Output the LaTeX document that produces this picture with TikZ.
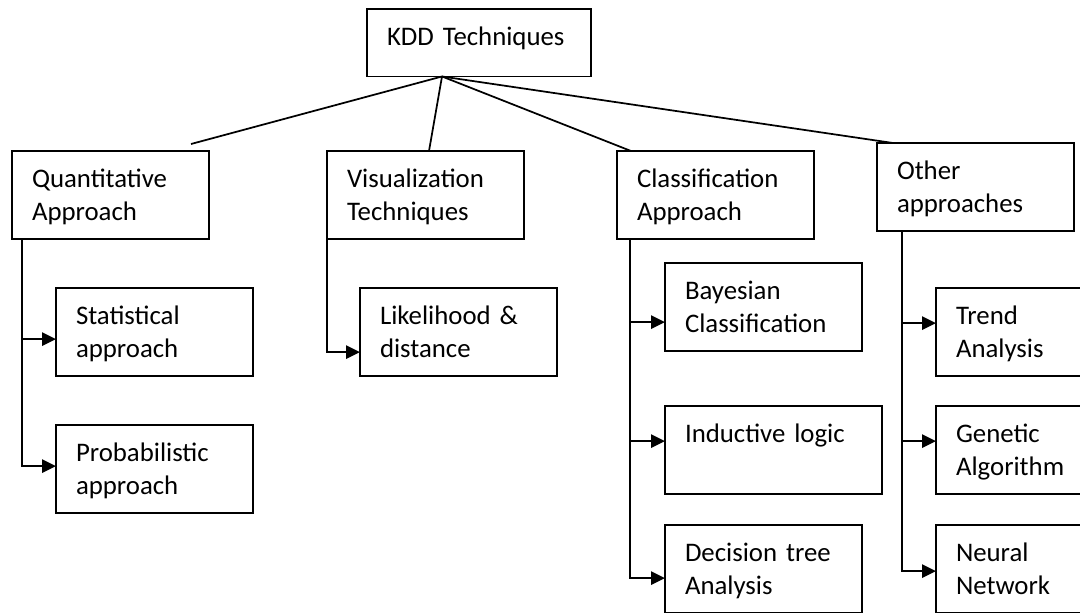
\documentclass[tikz,border=0pt]{standalone}
\usepackage{fontspec}
\setmainfont{Carlito}
\usetikzlibrary{arrows.meta}

\begin{document}
\begin{tikzpicture}[x=0.75pt, y=-0.75pt, line width=1.3pt,
    box/.style={draw, anchor=north west, outer sep=0pt, align=left,
      inner xsep=15pt, inner ysep=0pt, text width=#1,
      text height=27.4pt, text depth=38.8pt,
      font=\fontsize{20.1pt}{24.5pt}\selectfont},
    box/.default=118pt,
    link/.style={-{Triangle[length=10.5pt, width=10pt]}}]
    % Page frame
    \path[use as bounding box, fill=white] (0,0) rectangle (1080,612);
    \clip (0,0) rectangle (1080,612);

    % Root of the tree
    \node[box=138pt, text depth=23.2pt] (kdd) at (367,9) {KDD Techniques};

    % Main branches
    \node[box] (quant) at (12,151) {Quantitative\\Approach};
    \node[box] (vis) at (327,151) {Visualization\\Techniques};
    \node[box] (class) at (617,151) {Classification\\Approach};
    \node[box] (other) at (877,143) {Other\\approaches};

    % Leaves
    \node[box] (stat) at (56,288) {Statistical\\approach};
    \node[box] (prob) at (56,425) {Probabilistic\\approach};
    \node[box] (lik) at (360,288) {Likelihood \&\\distance};
    \node[box] (bayes) at (665,263) {Bayesian\\Classification};
    \node[box=133pt] (induct) at (665,406) {Inductive logic};
    \node[box] (dtree) at (665,525) {Decision tree\\Analysis};
    \node[box] (trend) at (936,288) {Trend\\Analysis};
    \node[box] (genetic) at (936,406) {Genetic\\Algorithm};
    \node[box] (neural) at (936,525) {Neural\\Network};

    % Fan-out from the root
    \coordinate (fan) at ([shift={(75,0)}]kdd.south west);
    \coordinate (qend) at ([shift={(179,-7)}]quant.north west);
    \draw (fan) -- (qend);
    \draw (fan) -- ([shift={(102,0)}]vis.north west);
    \draw (fan) -- ([shift={(14,0)}]class.north west);
    \draw (fan) -- ([shift={(16,0)}]other.north west);

    % Trunks down to the leaves
    \draw[link] ([shift={(10,0)}]quant.south west) |- ([shift={(0,7)}]stat.west);
    \draw[link] ([shift={(10,0)}]quant.south west) |- ([shift={(0,-3)}]prob.west);
    \draw[link] (vis.south west) |- ([shift={(0,20)}]lik.west);
    \draw[link] ([shift={(13,0)}]class.south west) |- ([shift={(0,15)}]bayes.west);
    \draw[link] ([shift={(13,0)}]class.south west) |- ([shift={(0,-9)}]induct.west);
    \draw[link] ([shift={(13,0)}]class.south west) |- ([shift={(0,9)}]dtree.west);
    \draw[link] ([shift={(25,0)}]other.south west) |- ([shift={(0,-9)}]trend.west);
    \draw[link] ([shift={(25,0)}]other.south west) |- ([shift={(0,-9)}]genetic.west);
    \draw[link] ([shift={(25,0)}]other.south west) |- ([shift={(0,2)}]neural.west);
\end{tikzpicture}
\end{document}
